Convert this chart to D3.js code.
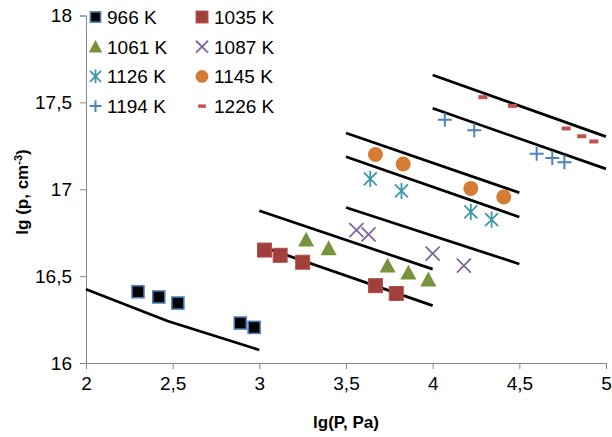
<!DOCTYPE html>
<html><head><meta charset="utf-8">
<script src="https://cdn.jsdelivr.net/npm/d3@7"></script>
<style>body{margin:0;background:#fff}svg{display:block}text{font-family:"Liberation Sans",Arial,sans-serif}</style>
</head><body><svg id="c" width="612" height="437"></svg>
<script>
// ---- data ----
const seriesNames = ["966 K","1035 K","1061 K","1087 K","1126 K","1145 K","1194 K","1226 K"];
const x966 = [2.30, 2.42, 2.53, 2.89, 2.97];
const y966 = [16.41, 16.38, 16.345, 16.23, 16.205];
const x1035 = [3.03, 3.12, 3.25, 3.67, 3.79];
const y1035 = [16.65, 16.62, 16.58, 16.445, 16.40];
const x1061 = [3.27, 3.40, 3.74, 3.86, 3.975];
const y1061 = [16.71, 16.66, 16.56, 16.52, 16.48];
const x1087 = [3.56, 3.63, 4.00, 4.18];
const y1087 = [16.765, 16.74, 16.63, 16.56];
const x1126 = [3.64, 3.82, 4.22, 4.34];
const y1126 = [17.06, 16.99, 16.87, 16.825];
const x1145 = [3.67, 3.83, 4.22, 4.41];
const y1145 = [17.20, 17.145, 17.005, 16.955];
const x1194 = [4.07, 4.24, 4.60, 4.69, 4.76];
const y1194 = [17.40, 17.34, 17.205, 17.18, 17.155];
const x1226 = [4.29, 4.46, 4.77, 4.86, 4.93];
const y1226 = [17.53, 17.48, 17.35, 17.305, 17.275];
// fitted lines
const fitX966 = [2.0, 2.47, 3.0],  fitY966 = [16.425, 16.242, 16.075];
const fitX1035 = [3.0, 4.0], fitY1035 = [16.675, 16.33];
const fitX1061 = [3.0, 4.0], fitY1061 = [16.876, 16.54];
const fitX1087 = [3.5, 4.5], fitY1087 = [16.895, 16.57];
const fitX1126 = [3.5, 4.5], fitY1126 = [17.187, 16.84];
const fitX1145 = [3.5, 4.5], fitY1145 = [17.324, 16.98];
const fitX1194 = [4.0, 5.0], fitY1194 = [17.466, 17.117];
const fitX1226 = [4.0, 5.0], fitY1226 = [17.658, 17.303];
const xTicks = [2, 2.5, 3, 3.5, 4, 4.5, 5];
const yTicks = [16, 16.5, 17, 17.5, 18];

// ---- chart ----
const svg = d3.select("#c");
const x = d3.scaleLinear().domain([2,5]).range([86,606]);
const y = d3.scaleLinear().domain([16,18]).range([363,15.5]);
const fmt = d => String(d).replace(".", ",");
const axisColor = "#868686";

const xa = svg.append("g").attr("transform",`translate(0,${y(16)})`)
  .call(d3.axisBottom(x).tickValues(xTicks).tickFormat(fmt).tickSizeOuter(0).tickSize(6).tickPadding(8));
const ya = svg.append("g").attr("transform",`translate(${x(2)},0)`)
  .call(d3.axisLeft(y).tickValues(yTicks).tickFormat(fmt).tickSizeOuter(0).tickSize(6).tickPadding(8));
[xa,ya].forEach(g=>{
  g.selectAll("path,line").attr("stroke",axisColor).attr("stroke-width",1);
  g.selectAll("text").attr("fill","#000").style("font-size","19px");
});

// fit lines
const fits = [[fitX966,fitY966],[fitX1035,fitY1035],[fitX1061,fitY1061],[fitX1087,fitY1087],
  [fitX1126,fitY1126],[fitX1145,fitY1145],[fitX1194,fitY1194],[fitX1226,fitY1226]];
const line = d3.line().x(d=>x(d[0])).y(d=>y(d[1]));
fits.forEach(([fx,fy])=>{
  svg.append("path").attr("d",line(fx.map((v,i)=>[v,fy[i]])))
    .attr("fill","none").attr("stroke","#000").attr("stroke-width",2.75);
});

// marker drawers
function marker(g, type, cx, cy, s) {
  s = s || 1;
  switch(type){
    case 0: g.append("rect").attr("x",cx-6*s).attr("y",cy-6*s).attr("width",12*s).attr("height",12*s)
      .attr("fill","#000").attr("stroke","#4a7ebb").attr("stroke-width",1.6); break;
    case 1: g.append("rect").attr("x",cx-7*s).attr("y",cy-7*s).attr("width",14*s).attr("height",14*s)
      .attr("fill","#a03f3b").attr("stroke","#b24f4b").attr("stroke-width",1); break;
    case 2: { const h=8*s; g.append("path").attr("d",`M${cx},${cy-h}L${cx+h},${cy+h*0.85}L${cx-h},${cy+h*0.85}Z`)
      .attr("fill","#77933c"); break; }
    case 3: { const h=7*s; g.append("path").attr("d",`M${cx-h},${cy-h}L${cx+h},${cy+h}M${cx-h},${cy+h}L${cx+h},${cy-h}`)
      .attr("stroke","#8064a2").attr("stroke-width",1.8).attr("fill","none"); break; }
    case 4: { const h=6.5*s; g.append("path").attr("d",`M${cx-h},${cy-h}L${cx+h},${cy+h}M${cx-h},${cy+h}L${cx+h},${cy-h}M${cx},${cy-h*1.25}L${cx},${cy+h*1.25}`)
      .attr("stroke","#3d97ad").attr("stroke-width",1.8).attr("fill","none"); break; }
    case 5: g.append("circle").attr("cx",cx).attr("cy",cy).attr("r",7.5*s).attr("fill","#d67b33"); break;
    case 6: { const h=7*s; g.append("path").attr("d",`M${cx-h},${cy}L${cx+h},${cy}M${cx},${cy-h}L${cx},${cy+h}`)
      .attr("stroke","#4f81bd").attr("stroke-width",2).attr("fill","none"); break; }
    case 7: g.append("rect").attr("x",cx-4.5*s).attr("y",cy-2*s).attr("width",9*s).attr("height",4*s)
      .attr("fill","#c0504d"); break;
  }
}
const series = [[x966,y966],[x1035,y1035],[x1061,y1061],[x1087,y1087],[x1126,y1126],[x1145,y1145],[x1194,y1194],[x1226,y1226]];
const mg = svg.append("g");
series.forEach(([sx,sy],k)=>{
  sx.forEach((v,i)=>marker(mg,k,x(v),y(sy[i])));
});

// legend
const lg = svg.append("g");
seriesNames.forEach((n,k)=>{
  const col = k%2, row = Math.floor(k/2);
  const mx = col===0 ? 95.5 : 202, my = 17 + row*29.7;
  marker(lg,k,mx,my,0.85);
  lg.append("text").attr("x", col===0?107:214).attr("y",my).attr("dy","0.36em")
    .style("font-size","19px").text(n);
});

// axis titles
svg.append("text").attr("x",346).attr("y",428).attr("text-anchor","middle")
  .style("font-size","17px").style("font-weight","bold").text("lg(P, Pa)");
const yt = svg.append("text").attr("transform","translate(28,192) rotate(-90)").attr("text-anchor","middle")
  .style("font-size","17px").style("font-weight","bold");
yt.append("tspan").text("lg (p, cm");
yt.append("tspan").attr("dy",-6).style("font-size","11px").text("-3");
yt.append("tspan").attr("dy",6).text(")");
</script></body></html>
